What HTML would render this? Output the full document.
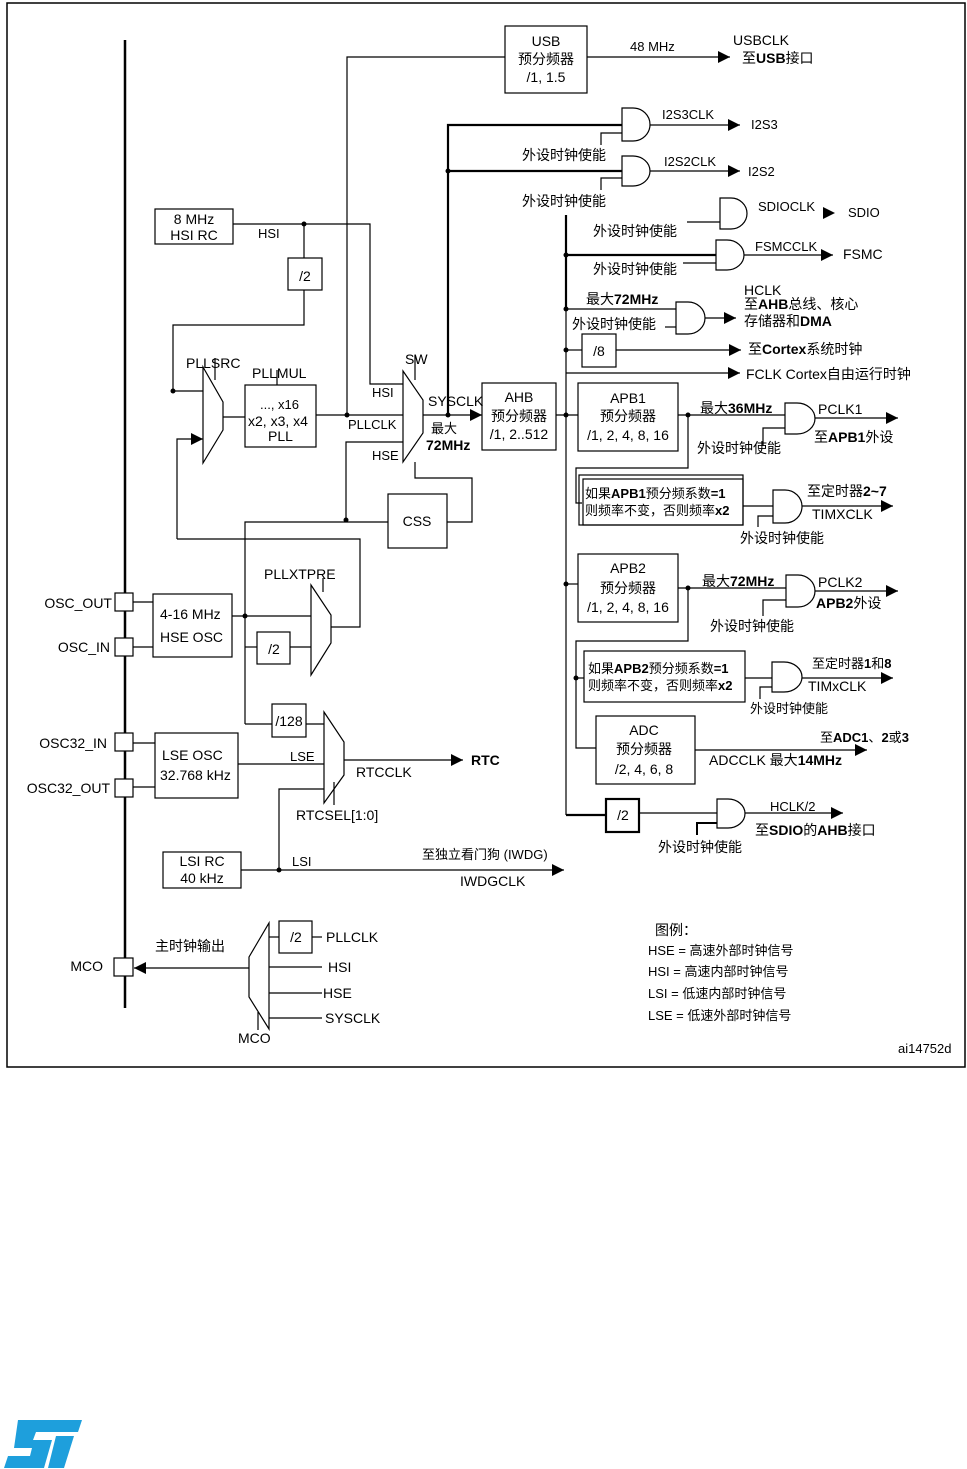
<!DOCTYPE html>
<html><head><meta charset="utf-8"><style>
html,body{margin:0;padding:0;background:#fff;}
svg{display:block;}
text{font-family:"Liberation Sans","Noto Sans CJK SC",sans-serif;font-size:14px;fill:#000;}
.s{font-size:13px;}
.b{font-weight:bold;}
</style></head><body>
<svg width="967" height="1469" viewBox="0 0 967 1469" xmlns="http://www.w3.org/2000/svg">
<defs>
<marker id="a" markerWidth="14" markerHeight="12" refX="12" refY="6" orient="auto" markerUnits="userSpaceOnUse"><path d="M0,0 L12,6 L0,12 Z" fill="#000"/></marker>
</defs>
<rect x="7" y="3" width="958" height="1064" fill="none" stroke="#000" stroke-width="1.5"/>
<g fill="none" stroke="#000" stroke-width="1.2">
<!-- main bus -->
<line x1="125" y1="40" x2="125" y2="1008" stroke-width="2.5"/>
<!-- USB -->
<rect x="505" y="26" width="82" height="67"/>
<polyline points="347,415 347,57 505,57"/>
<line x1="587" y1="57" x2="730" y2="57" marker-end="url(#a)"/>
<!-- HSI RC -->
<rect x="155" y="209" width="78" height="35"/>
<polyline points="233,224 370,224 370,384 403,384"/>
<line x1="304" y1="224" x2="304" y2="258"/>
<rect x="288" y="258" width="34" height="32"/>
<polyline points="304,290 304,325 173,325 173,391 203,391"/>
<!-- PLLSRC mux -->
<path d="M203,367 L223,402 L223,430 L203,463 Z"/>
<line x1="215" y1="358" x2="215" y2="380"/>
<polyline points="177,539 177,439 203,439" marker-end="url(#a)"/>
<polyline points="177,539 360,539 360,627 331,627"/>
<line x1="223" y1="417" x2="245" y2="417"/>
<rect x="245" y="385" width="71" height="62"/>
<line x1="277" y1="370" x2="277" y2="385"/>
<line x1="316" y1="415" x2="403" y2="415"/>
<!-- SW mux -->
<path d="M403,371 L423,400 L423,433 L403,462 Z"/>
<line x1="415" y1="355" x2="415" y2="380"/>
<polyline points="346,520 346,442 403,442"/>
<line x1="423" y1="415" x2="482" y2="415" marker-end="url(#a)"/>
<polyline points="447,522 472,522 472,478 415,478 415,462"/>
<rect x="388" y="494" width="59" height="54"/>
<polyline points="245,616 245,522 388,522"/>
<!-- SYSCLK thick -->
<polyline points="622,125 448,125 448,415" stroke-width="2.2"/>
<line x1="448" y1="171" x2="622" y2="171" stroke-width="2.2"/>
<!-- AHB -->
<rect x="482" y="383" width="74" height="67"/>
<line x1="556" y1="415" x2="578" y2="415"/>
<line x1="566" y1="215" x2="566" y2="310" stroke-width="2.2"/>
<line x1="566" y1="310" x2="566" y2="815"/>
<polyline points="566,815 606,815" stroke-width="2.2"/>
<line x1="566" y1="255" x2="716" y2="255" stroke-width="2.2"/>
<!-- gates -->
<path d="M622 108 H633 A17 16.5 0 0 1 633 141 H622 Z"/>
<polyline points="601,145 601,133 622,133"/>
<line x1="650" y1="125" x2="740" y2="125" marker-end="url(#a)"/>
<path d="M622 156 H633 A17 15 0 0 1 633 186 H622 Z"/>
<polyline points="601,190 601,178 622,178"/>
<line x1="650" y1="171" x2="740" y2="171" marker-end="url(#a)"/>
<path d="M720 198 H731 A16 15.5 0 0 1 731 229 H720 Z"/>
<line x1="687" y1="222" x2="720" y2="222"/>
<path d="M716 240 H727 A17 15 0 0 1 727 270 H716 Z"/>
<line x1="683" y1="263" x2="716" y2="263"/>
<line x1="744" y1="255" x2="833" y2="255" marker-end="url(#a)"/>
<path d="M676 302 H688 A17 16 0 0 1 688 334 H676 Z"/>
<line x1="566" y1="309" x2="676" y2="309"/>
<line x1="665" y1="327" x2="676" y2="327"/>
<line x1="705" y1="318" x2="736" y2="318" marker-end="url(#a)"/>
<rect x="582" y="334" width="34" height="33"/>
<line x1="566" y1="350" x2="582" y2="350"/>
<line x1="616" y1="350" x2="741" y2="350" marker-end="url(#a)"/>
<line x1="566" y1="373" x2="740" y2="373" marker-end="url(#a)"/>
<!-- APB1 -->
<rect x="578" y="383" width="100" height="68"/>
<line x1="678" y1="415" x2="785" y2="415"/>
<path d="M785 403 H797 A18 15.5 0 0 1 797 434 H785 Z"/>
<polyline points="763,446 763,428 785,428"/>
<line x1="815" y1="418" x2="898" y2="418" marker-end="url(#a)"/>
<polyline points="688,415 688,468 576,468 576,503 582,503"/>
<rect x="579" y="475" width="164" height="50"/>
<rect x="583" y="479" width="160" height="46"/>
<line x1="743" y1="506" x2="773" y2="506"/>
<path d="M773 490 H785 A17 16.5 0 0 1 785 523 H773 Z"/>
<polyline points="758,527 758,516 773,516"/>
<line x1="802" y1="506" x2="893" y2="506" marker-end="url(#a)"/>
<!-- APB2 -->
<rect x="578" y="554" width="100" height="68"/>
<line x1="566" y1="584" x2="578" y2="584"/>
<line x1="678" y1="588" x2="786" y2="588"/>
<path d="M786 575 H798 A17 16 0 0 1 798 607 H786 Z"/>
<polyline points="763,616 763,600 786,600"/>
<line x1="815" y1="591" x2="898" y2="591" marker-end="url(#a)"/>
<polyline points="688,588 688,641 576,641 576,748 596,748"/>
<rect x="584" y="651" width="161" height="51"/>
<line x1="576" y1="678" x2="584" y2="678"/>
<line x1="745" y1="678" x2="772" y2="678"/>
<path d="M772 662 H784 A18 15 0 0 1 784 692 H772 Z"/>
<polyline points="760,699 760,687 772,687"/>
<line x1="802" y1="678" x2="893" y2="678" marker-end="url(#a)"/>
<rect x="596" y="716" width="99" height="68"/>
<line x1="695" y1="750" x2="867" y2="750" marker-end="url(#a)"/>
<rect x="606" y="799" width="33" height="33" stroke-width="2.2"/>
<line x1="639" y1="813" x2="717" y2="813"/>
<path d="M717 799 H728 A17 14.5 0 0 1 728 828 H717 Z"/>
<polyline points="697,835 697,823 717,823" stroke-width="2"/>
<line x1="745" y1="813" x2="843" y2="813" marker-end="url(#a)"/>
<!-- HSE -->
<rect x="115" y="593" width="18" height="18" fill="#fff"/>
<rect x="115" y="638" width="18" height="18" fill="#fff"/>
<line x1="133" y1="602" x2="153" y2="602"/>
<line x1="133" y1="647" x2="153" y2="647"/>
<rect x="153" y="594" width="79" height="63"/>
<line x1="232" y1="616" x2="311" y2="616"/>
<line x1="245" y1="616" x2="245" y2="724"/>
<line x1="245" y1="647" x2="257" y2="647"/>
<rect x="257" y="632" width="33" height="32"/>
<line x1="290" y1="647" x2="311" y2="647"/>
<path d="M311,585 L331,615 L331,643 L311,675 Z"/>
<line x1="323" y1="578" x2="323" y2="592"/>
<line x1="245" y1="724" x2="272" y2="724"/>
<rect x="272" y="704" width="34" height="33"/>
<line x1="306" y1="724" x2="324" y2="724"/>
<!-- LSE -->
<rect x="115" y="733" width="18" height="18" fill="#fff"/>
<rect x="115" y="779" width="18" height="18" fill="#fff"/>
<line x1="133" y1="743" x2="155" y2="743"/>
<line x1="133" y1="787" x2="155" y2="787"/>
<rect x="155" y="733" width="83" height="65"/>
<line x1="238" y1="764" x2="324" y2="764"/>
<path d="M324,712 L344,742 L344,775 L324,803 Z"/>
<line x1="344" y1="760" x2="463" y2="760" marker-end="url(#a)"/>
<polyline points="279,870 279,789 324,789"/>
<line x1="334" y1="782" x2="334" y2="805"/>
<rect x="163" y="852" width="78" height="36"/>
<line x1="241" y1="870" x2="564" y2="870" marker-end="url(#a)"/>
<!-- MCO -->
<rect x="114" y="958" width="19" height="18" fill="#fff"/>
<line x1="249" y1="968" x2="134" y2="968" marker-end="url(#a)"/>
<path d="M269,923 L269,1029 L249,997 L249,957 Z"/>
<line x1="258" y1="1012" x2="258" y2="1030"/>
<line x1="269" y1="937" x2="279" y2="937"/>
<rect x="279" y="921" width="33" height="32"/>
<line x1="312" y1="937" x2="322" y2="937"/>
<line x1="269" y1="967" x2="322" y2="967"/>
<line x1="269" y1="993" x2="322" y2="993"/>
<line x1="269" y1="1018" x2="322" y2="1018"/>
</g>
<!-- dots -->
<g fill="#000">
<circle cx="304" cy="224" r="2.5"/><circle cx="173" cy="391" r="2.5"/><circle cx="347" cy="415" r="2.5"/>
<circle cx="448" cy="415" r="2.5"/><circle cx="448" cy="171" r="2.5"/><circle cx="566" cy="415" r="2.5"/>
<circle cx="566" cy="255" r="2.5"/><circle cx="566" cy="309" r="2.5"/><circle cx="566" cy="350" r="2.5"/>
<circle cx="688" cy="415" r="2.5"/><circle cx="566" cy="584" r="2.5"/><circle cx="688" cy="588" r="2.5"/>
<circle cx="576" cy="678" r="2.5"/><circle cx="346" cy="520" r="2.5"/><circle cx="245" cy="616" r="2.5"/>
<circle cx="279" cy="870" r="2.5"/>
<path d="M823,207 L835,213 L823,219 Z"/>
</g>
<!-- text -->
<text x="546" y="46" text-anchor="middle">USB</text>
<text x="546" y="64" text-anchor="middle">预分频器</text>
<text x="546" y="82" text-anchor="middle">/1, 1.5</text>
<text x="630" y="51" class="s">48 MHz</text>
<text x="733" y="45">USBCLK</text>
<text x="742" y="63">至<tspan class="b">USB</tspan>接口</text>
<text x="662" y="119" class="s">I2S3CLK</text>
<text x="751" y="129" class="s">I2S3</text>
<text x="522" y="160">外设时钟使能</text>
<text x="664" y="166" class="s">I2S2CLK</text>
<text x="748" y="176" class="s">I2S2</text>
<text x="522" y="206">外设时钟使能</text>
<text x="758" y="211" class="s">SDIOCLK</text>
<text x="848" y="217" class="s">SDIO</text>
<text x="593" y="236">外设时钟使能</text>
<text x="755" y="251" class="s">FSMCCLK</text>
<text x="843" y="259">FSMC</text>
<text x="593" y="274">外设时钟使能</text>
<text x="586" y="304">最大<tspan class="b">72MHz</tspan></text>
<text x="572" y="329">外设时钟使能</text>
<text x="744" y="295">HCLK</text>
<text x="744" y="309">至<tspan class="b">AHB</tspan>总线、核心</text>
<text x="744" y="326">存储器和<tspan class="b">DMA</tspan></text>
<text x="599" y="356" text-anchor="middle">/8</text>
<text x="748" y="354">至<tspan class="b">Cortex</tspan>系统时钟</text>
<text x="746" y="379">FCLK Cortex自由运行时钟</text>
<text x="628" y="403" text-anchor="middle">APB1</text>
<text x="628" y="421" text-anchor="middle">预分频器</text>
<text x="628" y="440" text-anchor="middle">/1, 2, 4, 8, 16</text>
<text x="700" y="413">最大<tspan class="b">36MHz</tspan></text>
<text x="818" y="414">PCLK1</text>
<text x="814" y="442">至<tspan class="b">APB1</tspan>外设</text>
<text x="697" y="453">外设时钟使能</text>
<text x="585" y="498" class="s">如果<tspan class="b">APB1</tspan>预分频系数<tspan class="b">=1</tspan></text>
<text x="585" y="515" class="s">则频率不变，否则频率<tspan class="b">x2</tspan></text>
<text x="807" y="496">至定时器<tspan class="b">2~7</tspan></text>
<text x="812" y="519">TIMXCLK</text>
<text x="740" y="543">外设时钟使能</text>
<text x="628" y="573" text-anchor="middle">APB2</text>
<text x="628" y="593" text-anchor="middle">预分频器</text>
<text x="628" y="612" text-anchor="middle">/1, 2, 4, 8, 16</text>
<text x="702" y="586">最大<tspan class="b">72MHz</tspan></text>
<text x="818" y="587">PCLK2</text>
<text x="816" y="608"><tspan class="b">APB2</tspan>外设</text>
<text x="710" y="631">外设时钟使能</text>
<text x="588" y="673" class="s">如果<tspan class="b">APB2</tspan>预分频系数<tspan class="b">=1</tspan></text>
<text x="588" y="690" class="s">则频率不变，否则频率<tspan class="b">x2</tspan></text>
<text x="812" y="668" class="s">至定时器<tspan class="b">1</tspan>和<tspan class="b">8</tspan></text>
<text x="808" y="691">TIMxCLK</text>
<text x="750" y="713" class="s">外设时钟使能</text>
<text x="644" y="735" text-anchor="middle">ADC</text>
<text x="644" y="754" text-anchor="middle">预分频器</text>
<text x="644" y="774" text-anchor="middle">/2, 4, 6, 8</text>
<text x="820" y="742" class="s">至<tspan class="b">ADC1</tspan>、<tspan class="b">2</tspan>或<tspan class="b">3</tspan></text>
<text x="709" y="765">ADCCLK  最大<tspan class="b">14MHz</tspan></text>
<text x="623" y="820" text-anchor="middle">/2</text>
<text x="770" y="811" class="s">HCLK/2</text>
<text x="755" y="835">至<tspan class="b">SDIO</tspan>的<tspan class="b">AHB</tspan>接口</text>
<text x="658" y="852">外设时钟使能</text>
<text x="194" y="224" text-anchor="middle">8 MHz</text>
<text x="194" y="240" text-anchor="middle">HSI RC</text>
<text x="258" y="238" class="s">HSI</text>
<text x="305" y="281" text-anchor="middle">/2</text>
<text x="186" y="368">PLLSRC</text>
<text x="252" y="378">PLLMUL</text>
<text x="260" y="409" class="s">..., x16</text>
<text x="248" y="426">x2, x3, x4</text>
<text x="268" y="441">PLL</text>
<text x="405" y="364">SW</text>
<text x="372" y="397" class="s">HSI</text>
<text x="348" y="429" class="s">PLLCLK</text>
<text x="372" y="460" class="s">HSE</text>
<text x="428" y="406">SYSCLK</text>
<text x="431" y="433" class="s">最大</text>
<text x="426" y="450" class="b">72MHz</text>
<text x="519" y="402" text-anchor="middle">AHB</text>
<text x="519" y="421" text-anchor="middle">预分频器</text>
<text x="519" y="439" text-anchor="middle">/1, 2..512</text>
<text x="417" y="526" text-anchor="middle">CSS</text>
<text x="264" y="579">PLLXTPRE</text>
<text x="112" y="608" text-anchor="end">OSC_OUT</text>
<text x="110" y="652" text-anchor="end">OSC_IN</text>
<text x="160" y="619">4-16 MHz</text>
<text x="160" y="642">HSE OSC</text>
<text x="274" y="654" text-anchor="middle">/2</text>
<text x="289" y="726" text-anchor="middle">/128</text>
<text x="107" y="748" text-anchor="end">OSC32_IN</text>
<text x="110" y="793" text-anchor="end">OSC32_OUT</text>
<text x="162" y="760">LSE OSC</text>
<text x="160" y="780">32.768 kHz</text>
<text x="290" y="761" class="s">LSE</text>
<text x="356" y="777">RTCCLK</text>
<text x="471" y="765" class="b">RTC</text>
<text x="296" y="820">RTCSEL[1:0]</text>
<text x="202" y="866" text-anchor="middle">LSI RC</text>
<text x="202" y="883" text-anchor="middle">40 kHz</text>
<text x="292" y="866" class="s">LSI</text>
<text x="422" y="859" class="s">至独立看门狗  (IWDG)</text>
<text x="460" y="886">IWDGCLK</text>
<text x="103" y="971" text-anchor="end">MCO</text>
<text x="155" y="951">主时钟输出</text>
<text x="296" y="942" text-anchor="middle">/2</text>
<text x="326" y="942">PLLCLK</text>
<text x="328" y="972">HSI</text>
<text x="323" y="998">HSE</text>
<text x="325" y="1023">SYSCLK</text>
<text x="238" y="1043">MCO</text>
<text x="655" y="935">图例：</text>
<text x="648" y="955" class="s">HSE = 高速外部时钟信号</text>
<text x="648" y="976" class="s">HSI = 高速内部时钟信号</text>
<text x="648" y="998" class="s">LSI = 低速内部时钟信号</text>
<text x="648" y="1020" class="s">LSE = 低速外部时钟信号</text>
<text x="898" y="1053" class="s">ai14752d</text>
<!-- ST logo -->
<g fill="#1e9fdc">
<path d="M18,1420 L82,1420 L78,1432 L36,1432 L33,1440 L52,1440 L44,1468 L4,1468 L8,1456 L30,1456 L32,1448 L14,1448 Z"/>
<path d="M56,1436 L74,1436 L64,1468 L48,1468 Z"/>
</g>
</svg>
</body></html>
